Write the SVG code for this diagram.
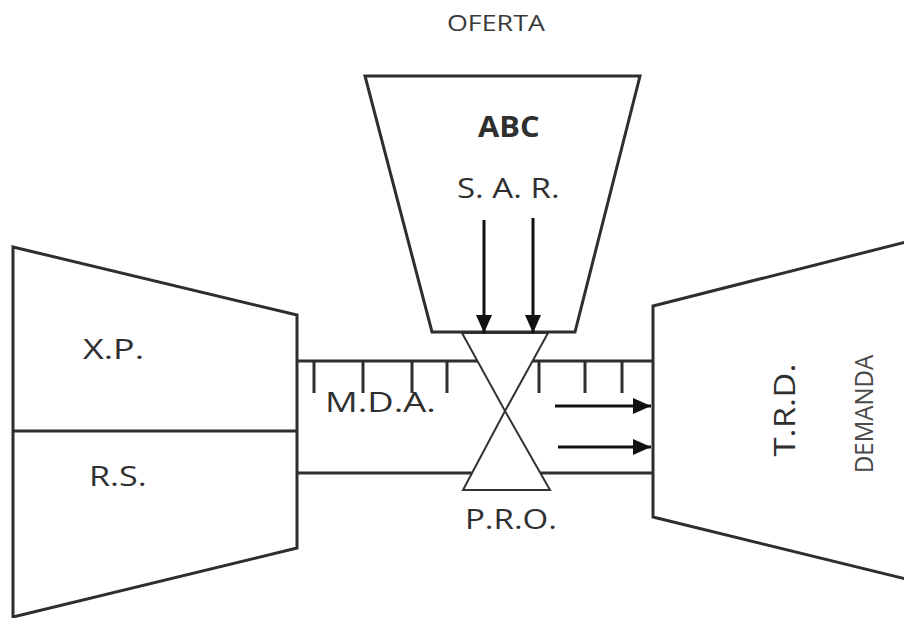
<svg xmlns="http://www.w3.org/2000/svg" width="904" height="618" viewBox="0 0 904 618">
<style>
.ln{fill:none;stroke:#2e2e2e;stroke-width:3;stroke-linejoin:miter}
.sh{fill:#fff;stroke:#2e2e2e;stroke-width:3}
.thin{fill:#fff;stroke:#333;stroke-width:2}
.t{font-family:"Open Sans","Liberation Sans",sans-serif;fill:#2f2f2f;font-size:28px}
.b{font-weight:bold}
.ar{fill:none;stroke:#111;stroke-width:3}
</style>
<defs>
<marker id="ah" markerUnits="userSpaceOnUse" markerWidth="20" markerHeight="18" refX="18" refY="8" orient="auto">
<path d="M0,0 L18,8 L0,16 Z" fill="#111"/>
</marker>
</defs>
<rect width="904" height="618" fill="#fff"/>

<g id="left-node">
<polygon class="sh" points="13,247 297,315 297,548 13,617"/>
<line class="ln" x1="13" y1="431" x2="297" y2="431"/>
<text class="t" transform="translate(83,359) scale(1.28,1)">X.P.</text>
<text class="t" transform="translate(89,486) scale(1.22,1)">R.S.</text>
</g>

<g id="channel-node">
<line class="ln" x1="297" y1="361" x2="652" y2="361"/>
<line class="ln" x1="297" y1="473" x2="652" y2="473"/>
<g class="ln" stroke-width="2.5">
<line x1="314" y1="361" x2="314" y2="393"/>
<line x1="363" y1="361" x2="363" y2="393"/>
<line x1="412" y1="361" x2="412" y2="393"/>
<line x1="447" y1="361" x2="447" y2="393"/>
<line x1="539" y1="361" x2="539" y2="393"/>
<line x1="585" y1="361" x2="585" y2="393"/>
<line x1="622" y1="361" x2="622" y2="393"/>
</g>
<text class="t" transform="translate(325,412) scale(1.3,1)">M.D.A.</text>
</g>

<g id="demand-node">
<polygon class="sh" points="653,306 906,242 906,579 653,517"/>
<text class="t" transform="translate(795,410) rotate(-90) scale(1.24,1.05)" text-anchor="middle">T.R.D.</text>
<text class="t" transform="translate(873,414) rotate(-90) scale(1.2,1.3)" text-anchor="middle" style="font-size:20px;fill:#4a4a4a">DEMANDA</text>
</g>

<g id="valve-node">
<polygon class="thin" points="462,333 548,333 505,411"/>
<polygon class="thin" points="505,411 463,490 550,490"/>
<text class="t" transform="translate(465,529) scale(1.18,1)">P.R.O.</text>
</g>

<g id="supply-node">
<polygon class="sh" points="365,76 640,76 575,332 432,332"/>
<text class="t" transform="translate(447,31) scale(1.22,1)" style="font-size:22px;fill:#3a3a3a">OFERTA</text>
<text class="t b" transform="translate(478,137) scale(1.1,1)">ABC</text>
<text class="t" transform="translate(457,198) scale(1.18,1)">S. A. R.</text>
</g>

<g id="connectors">
<line class="ar" x1="484" y1="220" x2="484" y2="333" marker-end="url(#ah)"/>
<line class="ar" x1="533" y1="218" x2="533" y2="333" marker-end="url(#ah)"/>
<line class="ar" x1="555" y1="406" x2="651" y2="406" marker-end="url(#ah)"/>
<line class="ar" x1="558" y1="447" x2="651" y2="447" marker-end="url(#ah)"/>
</g>
</svg>
